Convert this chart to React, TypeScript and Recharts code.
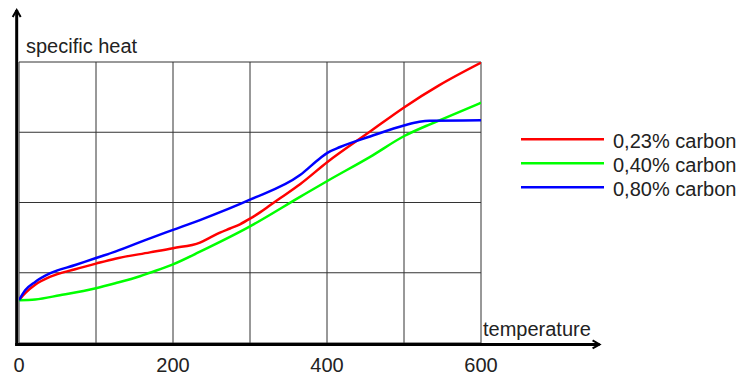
import React from 'react';
import {
  LineChart,
  Line,
  XAxis,
  YAxis,
  CartesianGrid,
  ReferenceLine,
  Legend,
  Customized,
} from 'recharts';

// ---- data ----
const xTicks = [0, 100, 200, 300, 400, 500, 600];
const xTickLabels = ['0', '', '200', '', '400', '', '600'];
const yTicks = [0, 1, 2, 3, 4];

const seriesNames = ['0,23% carbon', '0,40% carbon', '0,80% carbon'];
const seriesColors = ['#ff0000', '#00ff00', '#0000ff'];

const redTemps = [0, 8, 21, 40, 73, 100, 125, 170, 200, 235, 248, 261, 274, 287, 300, 313, 326, 339, 365, 401, 456, 501, 546, 600];
const redValues = [0.61, 0.71, 0.83, 0.94, 1.05, 1.13, 1.2, 1.29, 1.35, 1.43, 1.5, 1.57, 1.63, 1.69, 1.77, 1.86, 1.96, 2.06, 2.26, 2.58, 3.01, 3.36, 3.67, 3.99];

const greenTemps = [0, 21, 53, 100, 125, 157, 170, 200, 235, 300, 365, 401, 456, 501, 533, 546, 600];
const greenValues = [0.61, 0.62, 0.68, 0.78, 0.85, 0.95, 1.0, 1.12, 1.3, 1.66, 2.08, 2.31, 2.65, 2.95, 3.11, 3.17, 3.42];

const blueTemps = [0, 8, 21, 40, 73, 100, 125, 170, 200, 235, 300, 365, 391, 401, 417, 456, 501, 520, 533, 600];
const blueValues = [0.61, 0.75, 0.87, 0.99, 1.11, 1.21, 1.3, 1.49, 1.61, 1.75, 2.04, 2.39, 2.63, 2.71, 2.79, 2.94, 3.1, 3.15, 3.165, 3.17];

const yAxisTitle = 'specific heat';
const xAxisTitle = 'temperature';

// axis line extents (in data units)
const yAxisSegment = [
  { x: -3, y: -0.04 },
  { x: -3, y: 4.74 },
];
const xAxisSegment = [
  { x: -5, y: -0.02 },
  { x: 754, y: -0.02 },
];

const FONT = "'Liberation Sans', Arial, sans-serif";
const TEXT_COLOR = '#222';

const series = [
  { name: seriesNames[0], color: seriesColors[0], data: redTemps.map((t, i) => ({ t, v: redValues[i] })) },
  { name: seriesNames[1], color: seriesColors[1], data: greenTemps.map((t, i) => ({ t, v: greenValues[i] })) },
  { name: seriesNames[2], color: seriesColors[2], data: blueTemps.map((t, i) => ({ t, v: blueValues[i] })) },
];

const XTick = (props: any) => {
  const { x, y, payload } = props;
  const idx = xTicks.indexOf(payload.value);
  const label = idx >= 0 ? xTickLabels[idx] : '';
  if (!label) return null;
  return (
    <text x={x} y={y + 28.5} textAnchor="middle" fontSize={20} fontFamily={FONT} fill={TEXT_COLOR}>
      {label}
    </text>
  );
};

const ArrowLine = (p: any) => {
  const { x1, y1, x2, y2 } = p;
  const dx = x2 - x1;
  const dy = y2 - y1;
  const len = Math.hypot(dx, dy) || 1;
  const ux = dx / len;
  const uy = dy / len;
  const hl = 7;
  const hw = 4;
  const bx = x2 - ux * hl;
  const by = y2 - uy * hl;
  const px = -uy;
  const py = ux;
  return (
    <g>
      <line x1={x1} y1={y1} x2={x2} y2={y2} stroke="#000" strokeWidth={3} />
      <path
        d={`M${bx + px * hw},${by + py * hw}L${x2},${y2}L${bx - px * hw},${by - py * hw}`}
        fill="none"
        stroke="#000"
        strokeWidth={2}
      />
    </g>
  );
};

const LegendContent = () => (
  <svg width={228} height={80} style={{ display: 'block' }}>
    {series.map((s, i) => (
      <g key={s.name}>
        <line x1={6} x2={89} y1={14.3 + i * 24} y2={14.3 + i * 24} stroke={s.color} strokeWidth={2.5} />
        <text x={98} y={23.3 + i * 23.9} fontSize={20} fontFamily={FONT} fill={TEXT_COLOR}>
          {s.name}
        </text>
      </g>
    ))}
  </svg>
);

const Titles = () => (
  <g>
    <text x={26} y={52.5} fontSize={20} fontFamily={FONT} fill={TEXT_COLOR}>
      {yAxisTitle}
    </text>
    <text x={483} y={336} fontSize={20} fontFamily={FONT} fill={TEXT_COLOR}>
      {xAxisTitle}
    </text>
  </g>
);

export default function App() {
  return (
    <div style={{ position: 'absolute', left: 0, top: 0, width: 743, height: 375, background: '#fff' }}>
      <LineChart width={743} height={375} margin={{ top: 62, right: 262, bottom: 0, left: 19 }}>
        <CartesianGrid stroke="#333" strokeWidth={1} />
        <XAxis
          dataKey="t"
          type="number"
          domain={[0, 600]}
          ticks={xTicks}
          interval={0}
          allowDataOverflow
          axisLine={false}
          tickLine={false}
          tickSize={0}
          tickMargin={0}
          height={32}
          tick={<XTick />}
        />
        <YAxis hide type="number" domain={[0, 4]} ticks={yTicks} allowDataOverflow width={0} />
        {series.map((s) => (
          <Line
            key={s.name}
            data={s.data}
            dataKey="v"
            name={s.name}
            type="monotone"
            stroke={s.color}
            strokeWidth={2.5}
            dot={false}
            activeDot={false}
            isAnimationActive={false}
          />
        ))}
        <ReferenceLine segment={yAxisSegment} ifOverflow="visible" shape={ArrowLine} />
        <ReferenceLine segment={xAxisSegment} ifOverflow="visible" shape={ArrowLine} />
        <Customized component={Titles} />
        <Legend
          layout="horizontal"
          verticalAlign="middle"
          align="center"
          content={LegendContent}
          wrapperStyle={{ left: 515, top: 125, width: 228, height: 80 }}
        />
      </LineChart>
    </div>
  );
}
